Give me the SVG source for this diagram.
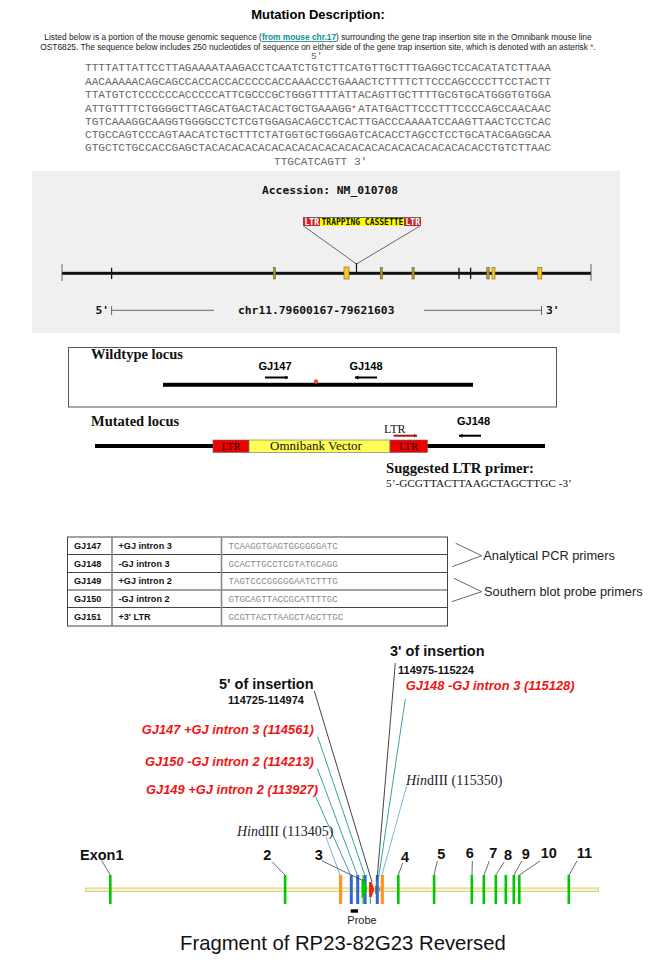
<svg xmlns="http://www.w3.org/2000/svg" width="652" height="965" viewBox="0 0 652 965">
<style>
text{font-family:"Liberation Sans",Arial,sans-serif;fill:#000}
.seq{font-family:"Liberation Mono","Courier New",monospace;font-size:11.1px;fill:#666}
.para{font-size:8.35px;fill:#222}
.pix{font-family:"DejaVu Sans Mono",monospace;font-weight:bold;fill:#111}
.ser{font-family:"Liberation Serif","Times New Roman",serif;fill:#111}
.ar{font-weight:bold;font-size:11px}
.cell{font-weight:bold;font-size:9.1px;fill:#111}
.pri{font-family:"Liberation Mono","Courier New",monospace;font-size:9.1px;fill:#888}
.red{font-weight:bold;font-style:italic;font-size:12.9px;fill:#f01414}
.num{font-weight:bold;font-size:14.5px;fill:#111}
.rng{font-weight:bold;font-size:11px;fill:#111}
.ins{font-weight:bold;font-size:14.5px;fill:#111}
.hind{font-family:"Liberation Serif",serif;font-size:14px;fill:#222}
.exon{fill:#00c800}
.blue{fill:#3366cc}
.orange{fill:#ff9420}
.t{stroke:#3aa0a0;stroke-width:1;fill:none}
.b{stroke:#7ab8de;stroke-width:1;fill:none}
.k{stroke:#444;stroke-width:1;fill:none}
.g{stroke:#444;stroke-width:.8;fill:none}
.gene{stroke:#6e6420;stroke-width:.6;fill:#b09a30}
.gold{stroke:#8a7420;stroke-width:.7;fill:#ffc820}
.tb{stroke:#444;stroke-width:1;fill:none}
</style>
<defs>
<marker id="ah" markerWidth="5" markerHeight="5" refX="3.5" refY="2" orient="auto" markerUnits="userSpaceOnUse"><path d="M0 0L4 2L0 4Z" fill="#000"/></marker>
<marker id="ahr" markerWidth="5" markerHeight="5" refX="3.5" refY="2" orient="auto" markerUnits="userSpaceOnUse"><path d="M0 0L4 2L0 4Z" fill="#a01818"/></marker>
</defs>

<g id="description">
<text x="318" y="19" text-anchor="middle" font-weight="bold" font-size="13px">Mutation Description:</text>
<text class="para" x="318" y="40" text-anchor="middle">Listed below is a portion of the mouse genomic sequence (<tspan font-weight="bold" fill="#109090" text-decoration="underline">from mouse chr.17</tspan>) surrounding the gene trap insertion site in the Omnibank mouse line</text>
<text class="para" x="318" y="50" text-anchor="middle">OST6825.  The sequence below includes 250 nucleotides of sequence on either side of the gene trap insertion site, which is denoted with an asterisk <tspan fill="#f00">*</tspan>.</text>
<text class="seq" x="311" y="59" style="font-size:9.5px">5'</text>
<text class="seq" x="85" y="71">TTTTATTATTCCTTAGAAAATAAGACCTCAATCTGTCTTCATGTTGCTTTGAGGCTCCACATATCTTAAA</text>
<text class="seq" x="85" y="84.5">AACAAAAACAGCAGCCACCACCACCCCCACCAAACCCTGAAACTCTTTTCTTCCCAGCCCCTTCCTACTT</text>
<text class="seq" x="85" y="98">TTATGTCTCCCCCCACCCCCATTCGCCCGCTGGGTTTTATTACAGTTGCTTTTGCGTGCATGGGTGTGGA</text>
<text class="seq" x="85" y="111.5">ATTGTTTTCTGGGGCTTAGCATGACTACACTGCTGAAAGG<tspan fill="#f00" font-size="9">*</tspan> <tspan x="358">ATATGACTTCCCTTTCCCCAGCCAACAAC</tspan></text>
<text class="seq" x="85" y="124.5">TGTCAAAGGCAAGGTGGGGCCTCTCGTGGAGACAGCCTCACTTGACCCAAAATCCAAGTTAACTCCTCAC</text>
<text class="seq" x="85" y="138">CTGCCAGTCCCAGTAACATCTGCTTTCTATGGTGCTGGGAGTCACACCTAGCCTCCTGCATACGAGGCAA</text>
<text class="seq" x="85" y="151">GTGCTCTGCCACCGAGCTACACACACACACACACACACACACACACACACACACACACACCTGTCTTAAC</text>
<text class="seq" x="274" y="164.5">TTGCATCAGTT 3'</text>
</g>

<g id="gene-map">
<rect x="32" y="171" width="588" height="162" fill="#f0f0f0"/>
<text class="pix" x="262" y="194" font-size="11.3px">Accession: NM_010708</text>
<path class="g" d="M303.5 226L356.5 264L420 226"/>
<path d="M356.5 263V274" stroke="#111" stroke-width="1.2"/>
<rect x="62" y="271.8" width="529" height="3" fill="#111"/>
<path class="g" d="M62 264V281M591 264V281"/>
<path d="M111.6 267.7V279M459 267.7V279M470.6 267.7V279" stroke="#111" stroke-width="1.3"/>
<g id="cassette">
<rect x="303" y="217.5" width="17" height="8.5" fill="#c8282c"/>
<rect x="320" y="217.5" width="84" height="8.5" fill="#ffff00"/>
<rect x="404" y="217.5" width="17" height="8.5" fill="#c8282c"/>
<path d="M303 217.5H421" stroke="#666" stroke-width="1"/>
<text class="pix" x="304.5" y="224.5" font-size="8px" font-weight="normal" style="fill:#fff">LTR</text>
<text class="pix" x="321.500" y="224.5" font-size="8px">TRAPPING CASSETTE</text>
<text class="pix" x="405.5" y="224.5" font-size="8px" font-weight="normal" style="fill:#fff">LTR</text>
</g>
<rect class="gene" x="273.3" y="267.5" width="2.2" height="11.5"/>
<rect class="gold" x="344" y="267" width="5" height="12"/>
<rect class="gene" x="380.2" y="267.5" width="2.2" height="11.5"/>
<rect class="gene" x="412" y="267.5" width="2.2" height="11.5"/>
<rect class="gene" x="486.8" y="267.5" width="2.4" height="11.5"/>
<rect class="gold" x="492" y="267.5" width="3" height="11.5"/>
<rect class="gold" x="537.8" y="267.5" width="4" height="11.5"/>
<text class="pix" x="95.500" y="313.500" font-size="11.3px">5'</text>
<path class="g" d="M111.6 306V315M111.6 310.3H214M424 310.3H541.5M541.5 306V315"/>
<text class="pix" x="238" y="313.500" font-size="11.3px">chr11.79600167-79621603</text>
<text class="pix" x="546" y="313.500" font-size="11.3px">3'</text>
</g>

<g id="wildtype">
<rect x="68.5" y="347.5" width="488" height="59.5" fill="#fff" stroke="#555" stroke-width="1"/>
<text class="ser" x="91" y="359" font-weight="bold" font-size="14.5px">Wildtype locus</text>
<text class="ar" x="258.5" y="370">GJ147</text>
<text class="ar" x="349.500" y="370">GJ148</text>
<path d="M265 377.5H288" stroke="#000" stroke-width="2" marker-end="url(#ah)"/>
<path d="M377 377.5H355" stroke="#000" stroke-width="2" marker-end="url(#ah)"/>
<rect x="163" y="382.8" width="310" height="4" fill="#000"/>
<circle cx="316" cy="381.500" r="2.200" fill="#f24a4a"/>
</g>

<g id="mutated">
<text class="ser" x="91" y="426" font-weight="bold" font-size="14.5px">Mutated locus</text>
<rect x="95" y="444" width="450" height="4" fill="#000"/>
<rect x="213" y="440" width="36" height="12.5" fill="#f00000" stroke="#666" stroke-width=".6"/>
<rect x="249" y="440" width="141" height="12.5" fill="#ffff55" stroke="#666" stroke-width=".6"/>
<rect x="390" y="440" width="37.5" height="12.5" fill="#f00000" stroke="#666" stroke-width=".6"/>
<text class="ser" x="231" y="449.5" text-anchor="middle" font-size="10.5px">LTR</text>
<text class="ser" x="316" y="450" text-anchor="middle" font-size="13px">Omnibank Vector</text>
<text class="ser" x="408.5" y="449.5" text-anchor="middle" font-size="10.5px">LTR</text>
<text class="ser" x="384" y="432.5" font-size="12px">LTR</text>
<path d="M393.5 435.7H417" stroke="#a01818" stroke-width="2" marker-end="url(#ahr)"/>
<text class="ar" x="457" y="424.500">GJ148</text>
<path d="M481 435.7H459" stroke="#000" stroke-width="2" marker-end="url(#ah)"/>
<text class="ser" x="386" y="472.5" font-weight="bold" font-size="14.7px">Suggested LTR primer:</text>
<text class="ser" x="386" y="487" font-size="11.3px">5’-GCGTTACTTAAGCTAGCTTGC -3’</text>
</g>

<g id="primer-table">
<rect class="tb" x="67.5" y="537" width="380" height="89"/>
<path class="tb" d="M67.5 554.5H447.5M67.5 572.5H447.5M67.5 590H447.5M67.5 607.5H447.5"/>
<path d="M112 537V626M221.5 537V626" stroke="#888" stroke-width="1.6"/>
<text class="cell" x="74" y="549">GJ147</text><text class="cell" x="118.500" y="549">+GJ intron 3</text><text class="pri" x="228.5" y="549">TCAAGGTGAGTGGGGGGATC</text>
<text class="cell" x="74" y="566.5">GJ148</text><text class="cell" x="118.500" y="566.5">-GJ intron 3</text><text class="pri" x="228.5" y="566.5">GCACTTGCCTCGTATGCAGG</text>
<text class="cell" x="74" y="584">GJ149</text><text class="cell" x="118.500" y="584">+GJ intron 2</text><text class="pri" x="228.5" y="584">TAGTCCCGGGGGAATCTTTG</text>
<text class="cell" x="74" y="601.5">GJ150</text><text class="cell" x="118.500" y="601.5">-GJ intron 2</text><text class="pri" x="228.5" y="601.5">GTGCAGTTACCGCATTTTGC</text>
<text class="cell" x="74" y="619.500">GJ151</text><text class="cell" x="118.500" y="619.500">+3' LTR</text><text class="pri" x="228.5" y="619.500">GCGTTACTTAAGCTAGCTTGC</text>
</g>
<g id="primer-notes">
<path class="g" d="M455.700 543.300L481.700 555.700L452.300 566.700M454 578.300L481.700 591.700L451.700 601.700"/>
<text x="483.300" y="560" font-size="12.800px" style="fill:#222">Analytical PCR primers</text>
<text x="484" y="595.500" font-size="12.800px" style="fill:#222">Southern blot probe primers</text>
</g>

<g id="backbone">
<rect x="85.5" y="888" width="513" height="3.5" fill="#f8f4c0" stroke="#d8d090" stroke-width="1"/>
</g>
<g id="features">
<rect class="orange" x="339" y="875" width="3.2" height="29"/>
<rect class="blue" x="349.8" y="875" width="3" height="29"/>
<rect class="blue" x="356.2" y="875" width="3" height="29"/>
<rect class="blue" x="363.6" y="875" width="3" height="29"/>
<path class="exon" d="M362.5 875h1.2v4l3.5 9.500l-3.500 9v6.500h-1.200v-6l-1 -.5v-18l1 -.5z"/>
<path d="M370.3 885V904" stroke="#1aa060" stroke-width="1"/>
<path d="M369 882h2.500l3 7l-3 8h-2.500z" fill="#e83010"/>
<path d="M375 885l3 4l-3 6z" fill="#709040"/>
<rect class="blue" x="375.800" y="875" width="3" height="29"/>
<path d="M378.500 885l2 4l-2 4z" fill="#8090b0"/>
<rect class="orange" x="380.700" y="875" width="3.200" height="29"/>
</g>
<g id="connectors">
<path class="b" d="M326 837L340 875"/>
<path class="t" d="M315.700 796.700L351 876"/>
<path class="t" d="M317.300 768.300L357.700 876"/>
<path class="t" d="M317.700 736.700L365 876"/>
<path class="k" d="M314.300 691L372 882"/>
<path class="k" d="M395.300 663L377 880"/>
<path class="t" d="M405.300 699L377.500 885"/>
<path class="b" d="M406.700 785.700L381.700 876"/>
<path class="g" d="M101.700 860.700L110.300 875M272 861.700L285 875M321.700 860.700L361.700 880M402.700 863L398.300 875M437.300 861L434 875M472.300 861L472 875M489.300 861L484 875M504.300 862L495.700 875M521.700 861L514 875M540 861L519.300 875M577 861L569 875"/>
</g>
<g id="exons">
<rect class="exon" x="109" y="875" width="2.600" height="29"/>
<rect class="exon" x="283.800" y="875" width="2.600" height="29"/>
<rect class="exon" x="397" y="875" width="2.600" height="29"/>
<rect class="exon" x="432.800" y="875" width="2.600" height="29"/>
<rect class="exon" x="470.500" y="875" width="2.600" height="29"/>
<rect class="exon" x="482.500" y="875" width="2.600" height="29"/>
<rect class="exon" x="494.500" y="875" width="2.600" height="29"/>
<rect class="exon" x="504.500" y="875" width="2.600" height="29"/>
<rect class="exon" x="512.500" y="875" width="2.600" height="29"/>
<rect class="exon" x="518" y="875" width="2.600" height="29"/>
<rect class="exon" x="567.500" y="875" width="2.600" height="29"/>
</g>
<g id="exon-labels">
<text class="num" x="80" y="859.500">Exon1</text>
<text class="num" x="263.300" y="859.500">2</text>
<text class="num" x="314.700" y="860">3</text>
<text class="num" x="401" y="862">4</text>
<text class="num" x="437.300" y="859">5</text>
<text class="num" x="465.700" y="858">6</text>
<text class="num" x="489.300" y="858">7</text>
<text class="num" x="504" y="860">8</text>
<text class="num" x="521.700" y="859">9</text>
<text class="num" x="540.700" y="858">10</text>
<text class="num" x="576.700" y="858">11</text>
</g>
<g id="site-labels">
<text class="ins" x="390" y="656">3' of insertion</text>
<text class="rng" x="398" y="674">114975-115224</text>
<text class="red" x="405.700" y="690">GJ148 -GJ intron 3 (115128)</text>
<text class="ins" x="219" y="689">5' of insertion</text>
<text class="rng" x="228" y="704">114725-114974</text>
<text class="red" x="141.700" y="734">GJ147 +GJ intron 3 (114561)</text>
<text class="red" x="145" y="766">GJ150 -GJ intron 2 (114213)</text>
<text class="red" x="146" y="793.500">GJ149 +GJ intron 2 (113927)</text>
<text class="hind" x="406" y="785"><tspan font-style="italic">Hin</tspan>dIII (115350)</text>
<text class="hind" x="237" y="836"><tspan font-style="italic">Hin</tspan>dIII (113405)</text>
</g>
<g id="probe">
<rect x="350.700" y="909.300" width="7.300" height="3.400" fill="#000"/>
<text x="347.300" y="923.500" font-size="11px" style="fill:#222">Probe</text>
</g>
<text x="180" y="949.500" font-size="20.300px" style="fill:#111">Fragment of RP23-82G23 Reversed</text>
</svg>
